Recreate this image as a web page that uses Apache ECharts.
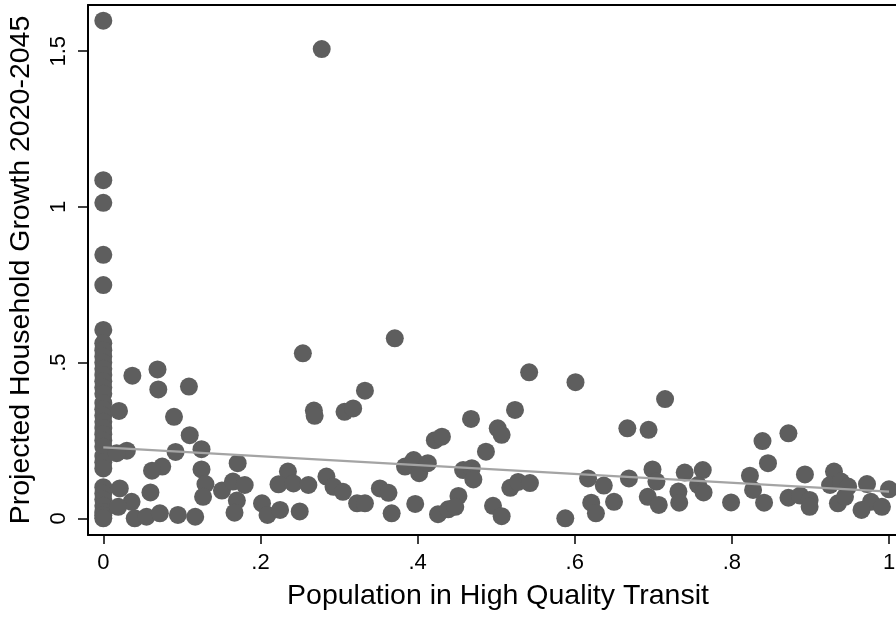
<!DOCTYPE html>
<html>
<head>
<meta charset="utf-8">
<script src="https://cdn.jsdelivr.net/npm/echarts@6/dist/echarts.min.js"></script>
<style>
html,body{margin:0;padding:0;background:#fff;}
#chart{width:896px;height:617px;}
</style>
</head>
<body>
<div id="chart"></div>
<script>
// Share of population in high quality transit (x) and projected household growth (y)
const transitShare = [
  0,0,0,0,0,0,0,0,0,0,0,0,0,0,0,0,0,0,0,0,0,0,0,0,0,0,0,0,0,0,0,0,0,
  0.037,0.069,0.070,0.109,0.020,0.090,0.110,0.030,0.017,0.092,0.125,0.171,0.075,0.062,0.125,0.235,
  0.223,0.242,0.130,0.151,0.165,0.180,0.127,0.170,0.021,0.036,0.019,0.060,0.202,0.209,0.225,0.250,
  0.167,0.040,0.055,0.072,0.095,0.117,
  0.254,0.278,0.371,0.333,0.268,0.269,0.307,0.318,0.468,0.524,0.422,0.431,0.502,0.507,0.487,0.384,
  0.395,0.402,0.413,0.458,0.469,0.471,0.261,0.284,0.293,0.305,0.323,0.333,0.352,0.363,0.367,0.397,
  0.426,0.439,0.452,0.448,0.496,0.507,0.518,0.528,0.543,
  0.542,0.601,0.715,0.667,0.694,0.617,0.669,0.699,0.704,0.740,0.763,0.757,0.764,0.732,0.733,0.693,
  0.707,0.637,0.650,0.621,0.627,0.588,
  0.839,0.872,0.846,0.823,0.827,0.841,0.799,0.893,0.872,0.887,0.899,0.899,0.930,0.925,0.939,0.948,
  0.935,0.944,0.972,0.977,0.965,0.991,1.000
];
const householdGrowth = [
  1.598,1.086,1.013,0.846,0.749,0.605,0.562,0.54,0.52,0.50,0.48,0.46,0.44,0.42,0.40,0.37,0.35,0.33,
  0.31,0.29,0.27,0.25,0.23,0.20,0.18,0.16,0.10,0.08,0.06,0.04,0.02,0.01,0.0,
  0.458,0.478,0.414,0.423,0.345,0.326,0.267,0.217,0.209,0.213,0.222,0.177,0.166,0.153,0.157,0.150,
  0.109,0.112,0.110,0.089,0.118,0.107,0.069,0.057,0.096,0.053,0.037,0.083,0.048,0.011,0.027,0.022,
  0.018,0.000,0.005,0.016,0.011,0.005,
  0.530,1.507,0.578,0.410,0.346,0.329,0.342,0.353,0.319,0.348,0.251,0.262,0.289,0.268,0.214,0.166,
  0.187,0.145,0.177,0.155,0.161,0.125,0.107,0.134,0.101,0.085,0.048,0.048,0.096,0.082,0.016,0.046,
  0.013,0.029,0.072,0.037,0.040,0.007,0.098,0.117,0.113,
  0.469,0.437,0.383,0.289,0.284,0.128,0.128,0.157,0.118,0.147,0.155,0.107,0.083,0.086,0.050,0.069,
  0.043,0.105,0.053,0.050,0.016,0.000,
  0.248,0.273,0.177,0.137,0.091,0.050,0.051,0.141,0.066,0.073,0.059,0.037,0.150,0.107,0.118,0.102,
  0.048,0.069,0.110,0.053,0.027,0.037,0.093
];
// Linear fit line end points
const fitLineX = [0, 1];
const fitLineY = [0.228, 0.086];
// Tick labels
const xTicks = [0, 0.2, 0.4, 0.6, 0.8, 1];
const yTicks = [0, 0.5, 1, 1.5];

const points = transitShare.map((x, i) => [x, householdGrowth[i]]);
const fitPoints = fitLineX.map((x, i) => [x, fitLineY[i]]);
const fmt = v => String(+v.toFixed(2)).replace(/^0\./, '.');

const FONT = 'Liberation Sans, Arial, Helvetica, sans-serif';
const XMIN = -0.01947, XMAX = -0.01947 + 820 / 785.7;
const YMIN = -0.0536, YMAX = -0.0536 + 530 / 311.4;

const chart = echarts.init(document.getElementById('chart'), null, {renderer: 'canvas'});
chart.setOption({
  animation: false,
  backgroundColor: '#ffffff',
  grid: {left: 88, top: 5, width: 820, height: 530, show: false, containLabel: false, outerBoundsMode: 'none'},
  xAxis: [{
    type: 'value', min: XMIN, max: XMAX, position: 'bottom',
    name: 'Population in High Quality Transit', nameLocation: 'middle', nameGap: 47,
    nameTextStyle: {fontFamily: FONT, fontSize: 28.5, color: '#000'},
    axisLine: {show: true, onZero: false, lineStyle: {color: '#000', width: 2}},
    axisTick: {show: true, inside: false, length: 9, customValues: xTicks, lineStyle: {color: '#000', width: 1.5}},
    axisLabel: {show: true, customValues: xTicks, formatter: fmt, margin: 17, fontFamily: FONT, fontSize: 22, color: '#000'},
    splitLine: {show: false}
  }, {
    type: 'value', min: XMIN, max: XMAX, position: 'top',
    axisLine: {show: true, onZero: false, lineStyle: {color: '#000', width: 2}},
    axisTick: {show: false}, axisLabel: {show: false}, splitLine: {show: false}
  }],
  yAxis: [{
    type: 'value', min: YMIN, max: YMAX, position: 'left',
    name: 'Projected Household Growth 2020-2045', nameLocation: 'middle', nameGap: 52,
    nameTextStyle: {fontFamily: FONT, fontSize: 28.5, color: '#000'},
    axisLine: {show: true, onZero: false, lineStyle: {color: '#000', width: 2}},
    axisTick: {show: true, inside: false, length: 10, customValues: yTicks, lineStyle: {color: '#000', width: 1.5}},
    axisLabel: {show: true, customValues: yTicks, formatter: fmt, rotate: 90, margin: 18, fontFamily: FONT, fontSize: 22, color: '#000'},
    splitLine: {show: false}
  }],
  series: [{
    type: 'scatter', xAxisIndex: 0, yAxisIndex: 0,
    data: points, symbol: 'circle', symbolSize: 18,
    itemStyle: {color: '#5e5e5e', opacity: 1},
    emphasis: {disabled: true}, z: 2
  }, {
    type: 'line', xAxisIndex: 0, yAxisIndex: 0,
    data: fitPoints, showSymbol: false, symbol: 'none',
    lineStyle: {color: '#a4a4a4', width: 2.2}, z: 3,
    emphasis: {disabled: true}
  }]
});
</script>
</body>
</html>
